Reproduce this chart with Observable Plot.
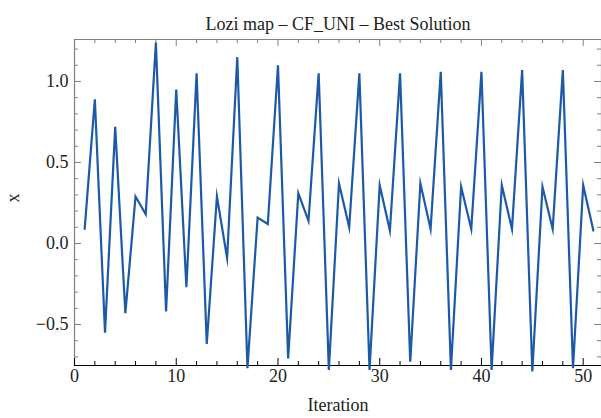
<!DOCTYPE html>
<html>
<head>
<meta charset="utf-8">
<script src="https://cdn.jsdelivr.net/npm/d3@7"></script>
<script src="https://cdn.jsdelivr.net/npm/@observablehq/plot@0.6"></script>
<style>
  html, body { margin: 0; padding: 0; background: #fff; }
  #chart { width: 601px; height: 418px; }
  #chart svg text { font-family: "Liberation Serif", "DejaVu Serif", serif; }
</style>
</head>
<body>
<div id="chart"></div>
<script>
const title = "Lozi map \u2013 CF_UNI \u2013 Best Solution";
const xLabel = "Iteration";
const yLabel = "x";

const iterations = d3.range(1, 52);
const xValues = [0.09, 0.89, -0.55, 0.72, -0.43, 0.29, 0.18, 1.24, -0.42, 0.95,
  -0.27, 1.05, -0.62, 0.29, -0.09, 1.15, -0.77, 0.16, 0.12, 1.10,
  -0.71, 0.31, 0.14, 1.05, -0.78, 0.37, 0.10, 1.05, -0.78, 0.36,
  0.08, 1.05, -0.73, 0.37, 0.09, 1.06, -0.78, 0.35, 0.09, 1.06,
  -0.78, 0.36, 0.09, 1.07, -0.79, 0.35, 0.09, 1.07, -0.77, 0.36, 0.08];

const xMajor = [0, 10, 20, 30, 40, 50];
const xMinor = [2, 4, 6, 8, 12, 14, 16, 18, 22, 24, 26, 28, 32, 34, 36, 38, 42, 44, 46, 48];
const yMajor = [-0.5, 0, 0.5, 1.0];
const yMinor = [-0.7, -0.6, -0.4, -0.3, -0.2, -0.1, 0.1, 0.2, 0.3, 0.4, 0.6, 0.7, 0.8, 0.9, 1.1, 1.2];
const yTickLabels = ["\u22120.5", "0.0", "0.5", "1.0"];

const data = iterations.map((it, i) => ({it, x: xValues[i]}));

const W = 601, H = 418, ML = 74, MR = 0, MT = 39, MB = 53;
const FW = W - ML - MR, FH = H - MT - MB;
const gray = "#808080";
const txt = "#222";

const chart = Plot.plot({
  width: W,
  height: H,
  marginLeft: ML,
  marginRight: MR,
  marginTop: MT,
  marginBottom: MB,
  style: {fontFamily: "Liberation Serif, DejaVu Serif, serif", fontSize: "18px", color: txt, background: "#fff", overflow: "visible"},
  x: {domain: [0, 51.8], axis: null},
  y: {domain: [-0.753, 1.259], axis: null},
  marks: [
    // frame
    Plot.frame({anchor: "left", stroke: gray, strokeWidth: 1.2}),
    Plot.frame({anchor: "top", stroke: gray, strokeWidth: 1.2}),
    Plot.frame({anchor: "right", stroke: gray, strokeWidth: 1.2}),
    Plot.frame({anchor: "bottom", stroke: "#000", strokeWidth: 1.2}),
    // inward ticks: bottom
    Plot.ruleX(xMajor, {x: d => d, insetTop: FH - 7, stroke: "#000"}),
    Plot.ruleX(xMinor, {x: d => d, insetTop: FH - 4, stroke: "#000"}),
    // top
    Plot.ruleX(xMajor, {x: d => d, insetBottom: FH - 7, stroke: gray}),
    Plot.ruleX(xMinor, {x: d => d, insetBottom: FH - 4, stroke: gray}),
    // left
    Plot.ruleY(yMajor, {y: d => d, insetRight: FW - 7, stroke: gray}),
    Plot.ruleY(yMinor, {y: d => d, insetRight: FW - 4, stroke: gray}),
    // right
    Plot.ruleY(yMajor, {y: d => d, insetLeft: FW - 7, stroke: gray}),
    Plot.ruleY(yMinor, {y: d => d, insetLeft: FW - 4, stroke: gray}),
    // tick labels
    Plot.text(xMajor, {x: d => d, frameAnchor: "bottom", dy: 16, text: d => String(d), fill: txt}),
    Plot.text(yMajor, {y: d => d, frameAnchor: "left", dx: -6, textAnchor: "end", text: (d, i) => yTickLabels[i], fill: txt}),
    // the series
    Plot.line(data, {x: "it", y: "x", stroke: "#1c5aa8", strokeWidth: 2.2, strokeLinejoin: "miter", strokeMiterlimit: 10}),
    // titles
    Plot.text([title], {frameAnchor: "top", dy: -22, text: d => d, fill: txt}),
    Plot.text([xLabel], {frameAnchor: "bottom", dy: 45, text: d => d, fill: txt}),
    Plot.text([yLabel], {frameAnchor: "left", dx: -61, rotate: -90, text: d => d, fill: txt})
  ]
});
document.getElementById("chart").appendChild(chart);
</script>
</body>
</html>
